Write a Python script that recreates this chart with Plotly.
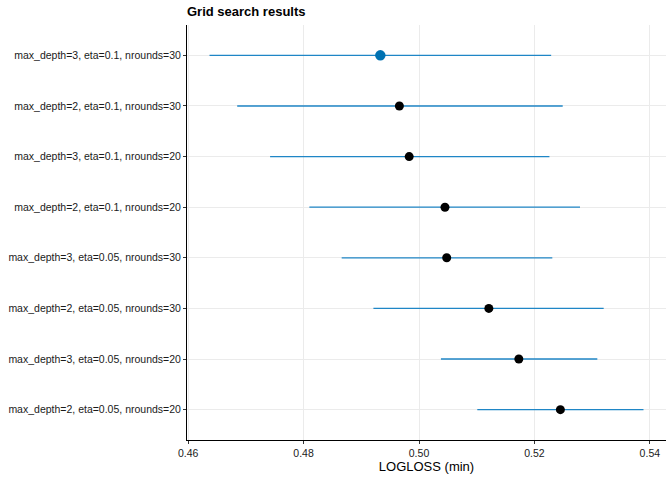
import plotly.graph_objects as go

# grid search configs, listed top to bottom as drawn
configs = [
    "max_depth=3, eta=0.1, nrounds=30",
    "max_depth=2, eta=0.1, nrounds=30",
    "max_depth=3, eta=0.1, nrounds=20",
    "max_depth=2, eta=0.1, nrounds=20",
    "max_depth=3, eta=0.05, nrounds=30",
    "max_depth=2, eta=0.05, nrounds=30",
    "max_depth=3, eta=0.05, nrounds=20",
    "max_depth=2, eta=0.05, nrounds=20",
]
logloss = [0.4933, 0.4966, 0.4983, 0.5045, 0.5048, 0.5121, 0.5173, 0.5245]
lower = [0.4637, 0.4685, 0.4742, 0.4810, 0.4866, 0.4921, 0.5038, 0.5101]
upper = [0.5229, 0.5249, 0.5226, 0.5279, 0.5231, 0.5320, 0.5309, 0.5389]
x_ticks = [0.46, 0.48, 0.50, 0.52, 0.54]

best = 0  # index of the lowest logloss

fig = go.Figure()

# interval lines
for c, lo, hi in zip(configs, lower, upper):
    fig.add_trace(go.Scatter(
        x=[lo, hi], y=[c, c], mode="lines",
        line=dict(color="#1f86c6", width=1.3),
        showlegend=False, hoverinfo="skip"
    ))

# point estimates
others = [i for i in range(len(configs)) if i != best]
fig.add_trace(go.Scatter(
    x=[logloss[i] for i in others], y=[configs[i] for i in others],
    mode="markers", marker=dict(color="black", size=9),
    showlegend=False
))
fig.add_trace(go.Scatter(
    x=[logloss[best]], y=[configs[best]],
    mode="markers", marker=dict(color="#0072B2", size=10.5),
    showlegend=False
))

fig.update_layout(
    width=672, height=480,
    plot_bgcolor="white", paper_bgcolor="white",
    margin=dict(l=187, r=6, t=25, b=40, autoexpand=False),
    font=dict(family="Liberation Sans, Arial, sans-serif", size=10.5, color="#1a1a1a"),
    title=dict(
        text="<b>Grid search results</b>",
        x=0, xref="paper", xanchor="left",
        y=1, yref="container", yanchor="top", pad=dict(t=7),
        font=dict(size=13, color="black")
    ),
)

fig.update_xaxes(
    range=[0.4598, 0.5428], automargin=False,
    tickvals=x_ticks, ticktext=[f"{v:.2f}" for v in x_ticks],
    showgrid=True, gridcolor="#ebebeb", gridwidth=1,
    showline=True, linecolor="black", linewidth=1,
    ticks="outside", ticklen=3, tickcolor="#333333",
    zeroline=False,
    title=dict(text="LOGLOSS (min)", font=dict(size=13, color="black"), standoff=2),
)
fig.update_yaxes(
    type="category", categoryorder="array", categoryarray=configs[::-1],
    range=[-0.6, len(configs) - 0.4], automargin=False,
    showgrid=True, gridcolor="#ebebeb", gridwidth=1,
    showline=True, linecolor="black", linewidth=1,
    ticks="outside", ticklen=3, tickcolor="#333333",
    zeroline=False,
)

# the page body has a default margin that would shift the figure
fig.write_html(
    "out.html",
    config={"displayModeBar": False},
    post_script="document.body.style.margin='0';document.body.style.overflow='hidden';",
)
